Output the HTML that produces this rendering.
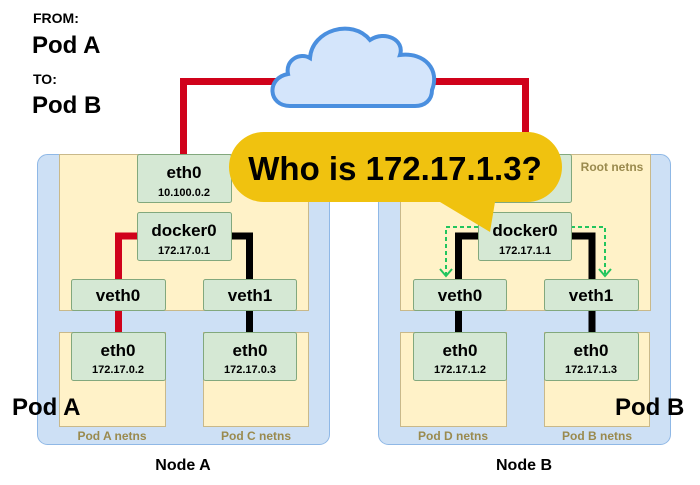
<!DOCTYPE html>
<html><head><meta charset="utf-8"><style>
body{margin:0;background:#fff}
svg text{font-family:"Liberation Sans",sans-serif;font-weight:bold}
</style></head><body>
<svg width="700" height="480" viewBox="0 0 700 480" xmlns="http://www.w3.org/2000/svg">
<text x="33" y="23" font-size="14">FROM:</text>
<text x="32" y="53" font-size="24">Pod A</text>
<text x="33" y="84" font-size="14">TO:</text>
<text x="32" y="113" font-size="24">Pod B</text>
<polyline points="183.5,156 183.5,81.5 280,81.5" fill="none" stroke="#d0021b" stroke-width="7"/>
<polyline points="430,81.5 525.5,81.5 525.5,150" fill="none" stroke="#d0021b" stroke-width="7"/>
<path d="M290,106 C268,106 266,78 288,74 C285,60 300,52 310,58 C312,30 352,18 370,40 C385,30 405,40 400,55 C425,52 440,70 432,90 C432,100 425,106 415,106 Z" fill="#d4e5fb" stroke="#4a8fdf" stroke-width="4"/>
<rect x="37.5" y="154.5" width="292" height="290" rx="10" fill="#cde0f5" stroke="#8fb8e6"/>
<rect x="59.5" y="154.5" width="249" height="156" fill="#fff2c8" stroke="#c9b98a"/>
<rect x="59.5" y="332.5" width="106" height="94" fill="#fff2c8" stroke="#c9b98a"/>
<rect x="203.5" y="332.5" width="105" height="94" fill="#fff2c8" stroke="#c9b98a"/>
<polyline points="137,236 118.5,236 118.5,280" fill="none" stroke="#d0021b" stroke-width="7"/>
<line x1="118.5" y1="310" x2="118.5" y2="333" stroke="#d0021b" stroke-width="7"/>
<polyline points="231,236 249.5,236 249.5,280" fill="none" stroke="#000" stroke-width="7"/>
<line x1="249.5" y1="310" x2="249.5" y2="333" stroke="#000" stroke-width="7"/>
<g fill="#d5e8d4" stroke="#82a87d">
<rect x="137.5" y="154.5" width="94" height="48" rx="2"/>
<rect x="137.5" y="212.5" width="94" height="48" rx="2"/>
<rect x="71.5" y="279.5" width="94" height="31" rx="2"/>
<rect x="203.5" y="279.5" width="93" height="31" rx="2"/>
<rect x="71.5" y="332.5" width="94" height="48" rx="2"/>
<rect x="203.5" y="332.5" width="93" height="48" rx="2"/>
</g>
<g text-anchor="middle">
<text x="184" y="178" font-size="17">eth0</text><text x="184" y="196" font-size="11">10.100.0.2</text>
<text x="184" y="236" font-size="17">docker0</text><text x="184" y="254" font-size="11">172.17.0.1</text>
<text x="118" y="301" font-size="17">veth0</text><text x="250" y="301" font-size="17">veth1</text>
<text x="118" y="356" font-size="17">eth0</text><text x="118" y="373" font-size="11">172.17.0.2</text>
<text x="250" y="356" font-size="17">eth0</text><text x="250" y="373" font-size="11">172.17.0.3</text>
<text x="112" y="440" font-size="12" fill="#9a8a4e">Pod A netns</text>
<text x="256" y="440" font-size="12" fill="#9a8a4e">Pod C netns</text>
<text x="183" y="470" font-size="16">Node A</text>
</g>
<text x="12" y="415" font-size="24">Pod A</text>
<rect x="378.5" y="154.5" width="292" height="290" rx="10" fill="#cde0f5" stroke="#8fb8e6"/>
<rect x="400.5" y="154.5" width="250" height="156" fill="#fff2c8" stroke="#c9b98a"/>
<rect x="400.5" y="332.5" width="106" height="94" fill="#fff2c8" stroke="#c9b98a"/>
<rect x="544.5" y="332.5" width="105" height="94" fill="#fff2c8" stroke="#c9b98a"/>
<polyline points="478,236 458.5,236 458.5,280" fill="none" stroke="#000" stroke-width="7"/>
<line x1="458.5" y1="310" x2="458.5" y2="333" stroke="#000" stroke-width="7"/>
<polyline points="571,236 592,236 592,280" fill="none" stroke="#000" stroke-width="7"/>
<line x1="592" y1="310" x2="592" y2="333" stroke="#000" stroke-width="7"/>
<g fill="none" stroke="#22c55e" stroke-width="2" stroke-dasharray="4,3">
<polyline points="478,227 446,227 446,276"/><polyline points="571,227 605,227 605,276"/>
</g>
<g fill="none" stroke="#22c55e" stroke-width="2">
<polyline points="440,269 446,276 452,269"/><polyline points="599,269 605,276 611,269"/>
</g>
<g fill="#d5e8d4" stroke="#82a87d">
<rect x="478.5" y="154.5" width="93" height="48" rx="2"/>
<rect x="478.5" y="212.5" width="93" height="48" rx="2"/>
<rect x="413.5" y="279.5" width="93" height="31" rx="2"/>
<rect x="544.5" y="279.5" width="94" height="31" rx="2"/>
<rect x="413.5" y="332.5" width="93" height="48" rx="2"/>
<rect x="544.5" y="332.5" width="94" height="48" rx="2"/>
</g>
<g text-anchor="middle">
<text x="525" y="236" font-size="17">docker0</text><text x="525" y="254" font-size="11">172.17.1.1</text>
<text x="460" y="301" font-size="17">veth0</text><text x="591" y="301" font-size="17">veth1</text>
<text x="460" y="356" font-size="17">eth0</text><text x="460" y="373" font-size="11">172.17.1.2</text>
<text x="591" y="356" font-size="17">eth0</text><text x="591" y="373" font-size="11">172.17.1.3</text>
<text x="453" y="440" font-size="12" fill="#9a8a4e">Pod D netns</text>
<text x="597" y="440" font-size="12" fill="#9a8a4e">Pod B netns</text>
<text x="524" y="470" font-size="16">Node B</text>
<text x="612" y="171" font-size="12" fill="#9a8a4e">Root netns</text>
</g>
<text x="615" y="415" font-size="24">Pod B</text>
<path d="M264,132 H527 A35,35 0 0 1 562,167 A35,35 0 0 1 527,202 H495 L490,232 L440,202 H264 A35,35 0 0 1 229,167 A35,35 0 0 1 264,132 Z" fill="#f0c20f"/>
<text x="395" y="180" font-size="33" text-anchor="middle">Who is 172.17.1.3?</text>
</svg>
</body></html>
